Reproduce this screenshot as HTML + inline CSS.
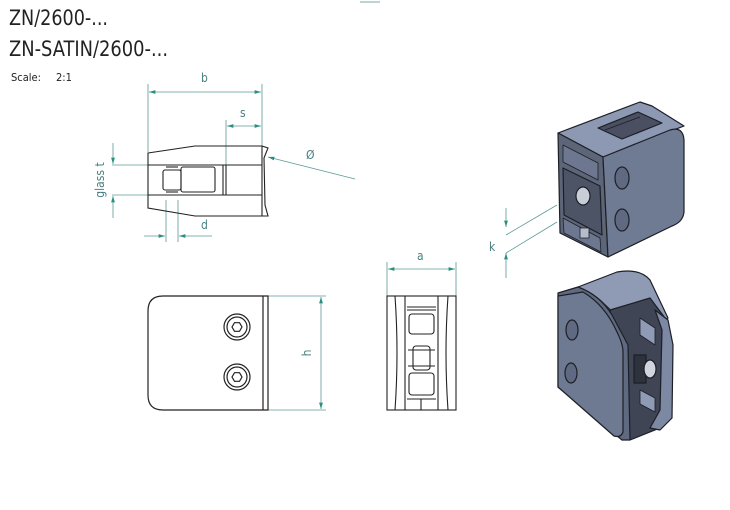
<!DOCTYPE html>
<html><head><meta charset="utf-8"><style>
html,body{margin:0;padding:0;background:#fff;}
svg{display:block}
.t{font-family:"DejaVu Sans Condensed","Liberation Sans Narrow","Liberation Sans",sans-serif;fill:#222}
.d{font-family:"DejaVu Sans Condensed","Liberation Sans",sans-serif;fill:#4a7f7f;font-size:12px}
</style></head><body>
<svg width="730" height="510" viewBox="0 0 730 510" xmlns="http://www.w3.org/2000/svg">
<defs>
<marker id="a" viewBox="0 0 10 6" refX="10" refY="3" markerWidth="8" markerHeight="5" orient="auto-start-reverse"><path d="M0,0L10,3L0,6z" fill="#2a8f7f"/></marker>
</defs>
<text class="t" x="9" y="25" font-size="21" textLength="99" lengthAdjust="spacingAndGlyphs">ZN/2600-...</text>
<text class="t" x="9" y="56" font-size="21" textLength="159" lengthAdjust="spacingAndGlyphs">ZN-SATIN/2600-...</text>
<text class="t" x="11" y="81" font-size="11" fill="#444" textLength="30" lengthAdjust="spacingAndGlyphs">Scale:</text>
<text class="t" x="56" y="81" font-size="11" fill="#444">2:1</text>
<line x1="360" y1="2" x2="380" y2="2" stroke="#7aa" stroke-width="1"/>

<g stroke="#5a9a95" stroke-width="0.8" fill="none">
<line x1="148" y1="84" x2="148" y2="152"/>
<line x1="262" y1="84" x2="262" y2="146"/>
<line x1="149" y1="92" x2="261" y2="92" marker-start="url(#a)" marker-end="url(#a)"/>
<line x1="226" y1="120" x2="226" y2="165"/>
<line x1="227" y1="126" x2="261" y2="126" marker-start="url(#a)" marker-end="url(#a)"/>
<line x1="112" y1="165" x2="148" y2="165"/>
<line x1="112" y1="195" x2="148" y2="195"/>
<line x1="113" y1="143" x2="113" y2="164" marker-end="url(#a)"/>
<line x1="113" y1="218" x2="113" y2="196" marker-end="url(#a)"/>
<line x1="166" y1="200" x2="166" y2="242"/>
<line x1="178" y1="200" x2="178" y2="242"/>
<line x1="144" y1="236" x2="165" y2="236" marker-end="url(#a)"/>
<line x1="212" y1="236" x2="179" y2="236" marker-end="url(#a)"/>
<line x1="355" y1="179" x2="268" y2="157" marker-end="url(#a)"/>
<line x1="268" y1="296" x2="326" y2="296"/>
<line x1="268" y1="410" x2="326" y2="410"/>
<line x1="321" y1="297" x2="321" y2="409" marker-start="url(#a)" marker-end="url(#a)"/>
<line x1="387" y1="262" x2="387" y2="296"/>
<line x1="456" y1="262" x2="456" y2="296"/>
<line x1="388" y1="269" x2="455" y2="269" marker-start="url(#a)" marker-end="url(#a)"/>
<line x1="506" y1="208" x2="506" y2="227" marker-end="url(#a)"/>
<line x1="506" y1="278" x2="506" y2="253" marker-end="url(#a)"/>
<line x1="506" y1="235" x2="557" y2="205"/>
<line x1="506" y1="253" x2="557" y2="222"/>
</g>
<text class="d" x="201" y="82">b</text>
<text class="d" x="240" y="117">s</text>
<text class="d" x="201" y="229">d</text>
<text class="d" x="306" y="159" font-size="15">Ø</text>
<text class="d" x="417" y="260">a</text>
<text class="d" x="489" y="251">k</text>
<text class="d" transform="translate(104,180) rotate(-90)" text-anchor="middle">glass t</text>
<text class="d" transform="translate(311,353) rotate(-90)" text-anchor="middle">h</text>

<g stroke="#222" stroke-width="1.1" fill="none">
<path d="M148,153 L195,146 L262,146 L262,216 L195,216 L148,208 Z"/>
<line x1="148" y1="165" x2="262" y2="165"/>
<line x1="148" y1="195" x2="262" y2="195"/>
<line x1="223" y1="165" x2="223" y2="195"/>
<line x1="226" y1="165" x2="226" y2="195"/>
<path d="M262,146 L268,148 L264,158 L265,205 L268,216 L262,216"/>
<rect x="163" y="170" width="18" height="20" rx="2"/>
<rect x="181" y="167" width="34" height="25" rx="2"/>
<line x1="166" y1="167" x2="178" y2="167"/>
<line x1="166" y1="192" x2="178" y2="192"/>
</g>

<g stroke="#222" stroke-width="1.2" fill="none">
<path d="M163,296 L268,296 L268,410 L163,410 Q148,410 148,395 L148,311 Q148,296 163,296 Z"/>
<line x1="263" y1="296" x2="263" y2="410"/>
<circle cx="237" cy="327" r="13"/><circle cx="237" cy="327" r="10"/>
<circle cx="237" cy="377" r="13"/><circle cx="237" cy="377" r="10"/>
<polygon points="242,327 239.5,331.3 234.5,331.3 232,327 234.5,322.7 239.5,322.7"/>
<polygon points="242,377 239.5,381.3 234.5,381.3 232,377 234.5,372.7 239.5,372.7"/>
</g>

<g stroke="#222" stroke-width="1.1" fill="none">
<rect x="387" y="296" width="69" height="114"/>
<path d="M395,296 Q399,353 395,410"/>
<path d="M448,296 Q444,353 448,410"/>
<line x1="405" y1="296" x2="405" y2="410"/>
<line x1="438" y1="296" x2="438" y2="410"/>
<line x1="407" y1="307" x2="436" y2="307"/>
<line x1="407" y1="310" x2="436" y2="310"/>
<rect x="409" y="314" width="25" height="20" rx="3"/>
<rect x="413" y="346" width="17" height="24" rx="3"/>
<line x1="408" y1="350" x2="435" y2="350"/><line x1="408" y1="366" x2="435" y2="366"/>
<rect x="409" y="373" width="25" height="22" rx="3"/>
<line x1="407" y1="399" x2="436" y2="399"/>
<line x1="421" y1="399" x2="421" y2="410"/>
</g>

<!-- 3D top -->
<g stroke="#1c1f26" stroke-width="1.2" stroke-linejoin="round">
<polygon points="558,133 640,102 652,106 684,126 603,157" fill="#8d98b3"/>
<polygon points="598,128 638,112 662,123 622,139" fill="#4a5062"/>
<line x1="605" y1="130" x2="640" y2="117" stroke-width="0.8"/>
<polygon points="558,133 603,157 608,257 560,233" fill="#5d6679"/>
<polygon points="563,145 598,163 598,180 563,162" fill="#6d7790" stroke-width="0.8"/>
<polygon points="563,168 600,186 602,235 564,215" fill="#4d5466"/>
<polygon points="563,218 600,238 601,252 564,233" fill="#6d7790" stroke-width="0.8"/>
<path d="M603,157 L670,130 Q683,126 684,140 L684,212 Q683,222 672,226 L608,257 Z" fill="#6f7a93"/>
<ellipse cx="622" cy="178" rx="7" ry="11" fill="#5f6981"/>
<ellipse cx="622" cy="220" rx="7" ry="11" fill="#5f6981"/>
<ellipse cx="583" cy="196" rx="7" ry="9" fill="#c8cdd8"/>
<rect x="580" y="228" width="9" height="10" fill="#b5bccc" stroke-width="0.8"/>
</g>

<!-- 3D bottom -->
<g stroke="#1c1f26" stroke-width="1.2" stroke-linejoin="round">
<path d="M578,287 L617,272 Q640,268 650,280 L668,318 L640,338 L600,300 Z" fill="#8f9ab4"/>
<path d="M610,310 L650,298 L668,322 L672,405 L660,428 L630,440 Z" fill="#3f4555"/>
<path d="M655,310 L668,320 L673,345 L672,418 L660,430 L650,428 L660,410 L662,330 Z" fill="#7d88a3"/>
<polygon points="640,318 655,328 655,345 640,335" fill="#8f9ab4" stroke-width="0.8"/>
<polygon points="640,390 655,398 655,412 640,404" fill="#8f9ab4" stroke-width="0.8"/>
<rect x="634" y="355" width="12" height="28" fill="#2e323d"/>
<ellipse cx="650" cy="369" rx="6" ry="9" fill="#d0d4de"/>
<path d="M558,293 L578,287 Q600,295 612,315 L628,345 L630,440 L622,440 L558,387 Z" fill="#5f6980"/>
<path d="M558,296 L583,292 Q605,305 617,332 Q623,344 623,352 L623,432 Q621,438 614,436 L558,387 Z" fill="#6e7992"/>
<ellipse cx="572" cy="330" rx="6" ry="10" fill="#5f6981"/>
<ellipse cx="571" cy="373" rx="6" ry="10" fill="#5f6981"/>
</g>
</svg>
</body></html>
